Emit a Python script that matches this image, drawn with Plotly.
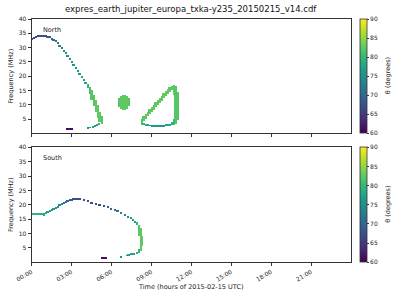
import plotly.graph_objects as go

# ---------------- data ----------------
# Each emission column: time (hours), frequency low / high (MHz), theta (deg)
N_ARC_T = [0.0, 0.15, 0.3, 0.45, 0.6, 0.75, 0.9, 1.05, 1.2, 1.35, 1.5, 1.65, 1.8, 1.95, 2.1,
           2.25, 2.4, 2.55, 2.7, 2.85, 3.0, 3.15, 3.3, 3.45, 3.6, 3.75, 3.9, 4.05]
N_ARC_F = [32.9, 33.3, 33.7, 34.0, 34.1, 34.2, 34.2, 34.1, 33.9, 33.6, 33.2, 32.8, 32.2, 31.5, 30.7,
           29.9, 29.0, 28.0, 27.0, 26.0, 24.9, 23.8, 22.8, 21.7, 20.7, 19.7, 18.6, 17.6]
N_ARC_TH = [67, 67, 67, 67, 67, 67, 67, 67, 68, 68, 69, 70, 71, 72, 73,
            73, 74, 74, 75, 75, 75, 75, 76, 76, 76, 77, 77, 78]

N_BAND_T = [4.2, 4.35, 4.5, 4.65, 4.8, 4.95, 5.1, 5.25,
            5.05, 4.9, 4.75, 4.55, 4.35, 4.2,
            2.7, 2.85, 3.0]
N_BAND_LO = [15.8, 13.6, 11.6, 9.6, 7.6, 5.3, 4.1, 3.4,
             2.9, 2.6, 2.3, 2.0, 1.9, 1.8,
             1.35, 1.35, 1.35]
N_BAND_HI = [17.4, 16.3, 15.0, 13.5, 11.8, 9.9, 7.6, 6.2,
             3.6, 3.1, 2.7, 2.4, 2.2, 2.1,
             1.75, 1.75, 1.75]
N_BAND_TH = [80, 81, 82, 82, 82.5, 82.5, 82.5, 82,
             79, 78, 77, 77, 76, 76,
             61, 61, 61]

BLOB_T = [6.55, 6.7, 6.85, 7.0, 7.15, 7.3]
BLOB_LO = [9.3, 8.5, 8.2, 8.2, 8.5, 9.5]
BLOB_HI = [12.2, 13.0, 13.3, 13.3, 13.0, 12.2]
BLOB_TH = [82, 82.5, 82.5, 82.5, 82.5, 82]

LOOP_T = [8.25, 8.4, 8.55, 8.7, 8.85, 9.0, 9.15, 9.3, 9.45, 9.6, 9.75, 9.9, 10.05, 10.2, 10.35, 10.5,
          10.65, 10.8, 10.95,
          8.4, 8.55, 8.7, 8.85, 9.0, 9.15, 9.3, 9.45, 9.6, 9.75, 9.9, 10.05, 10.2, 10.35, 10.5, 10.65]
LOOP_LO = [3.0, 4.3, 5.1, 5.9, 6.7, 7.5, 8.3, 9.1, 9.8, 10.6, 11.4, 12.2, 13.0, 13.7, 14.4, 15.0,
           13.5, 3.4, 4.5,
           2.8, 2.7, 2.6, 2.6, 2.5, 2.5, 2.5, 2.5, 2.5, 2.5, 2.5, 2.6, 2.6, 2.7, 2.8, 2.9]
LOOP_HI = [5.0, 6.0, 6.8, 7.6, 8.4, 9.2, 10.0, 10.8, 11.6, 12.4, 13.2, 14.0, 14.8, 15.5, 16.1, 16.6,
           16.8, 16.4, 14.5,
           3.5, 3.2, 3.0, 2.9, 2.9, 2.9, 2.9, 2.9, 2.9, 2.9, 2.9, 3.0, 3.1, 3.3, 3.8, 5.0]
LOOP_TH = [82, 82, 82.5, 82.5, 82.5, 82.5, 82.5, 82.5, 82.5, 82.5, 82.5, 82.5, 82.5, 82.5, 82.5, 82.5,
           82.5, 82, 82,
           80, 79, 78, 77, 76, 76, 76, 76, 76, 76, 76, 77, 77, 78, 79, 80]

S_T = [0.0, 0.15, 0.3, 0.45, 0.6, 0.75, 0.9, 1.05, 1.2, 1.35, 1.5, 1.65, 1.8, 1.95, 2.1, 2.25,
       2.4, 2.55, 2.7, 2.85, 3.0, 3.15, 3.3, 3.45, 3.6, 3.9, 4.2, 4.5, 4.8, 5.1, 5.4, 5.7,
       5.95, 6.2, 6.45, 6.7, 6.95, 7.2, 7.4, 7.6, 7.75, 7.9, 8.05, 8.2, 8.3,
       8.0, 7.85, 7.65, 7.5, 7.25, 7.1, 6.65, 5.25, 5.4, 5.55]
S_LO = [16.2, 16.2, 16.2, 16.2, 16.2, 16.2, 16.3, 16.7, 17.1, 17.5, 17.9, 18.3, 18.7, 19.1, 19.5, 19.9,
        20.3, 20.7, 21.0, 21.3, 21.5, 21.7, 21.8, 21.8, 21.7, 21.3, 20.9, 20.5, 20.1, 19.7, 19.3, 18.8,
        18.3, 17.9, 17.4, 16.9, 16.2, 15.6, 15.0, 14.4, 13.8, 12.8, 9.0, 3.8, 5.5,
        3.2, 2.8, 2.6, 2.5, 2.2, 2.1, 1.7, 1.3, 1.3, 1.3]
S_HI = [16.9, 16.9, 16.9, 16.9, 16.9, 16.9, 16.9, 17.3, 17.6, 18.0, 18.4, 18.8, 19.2, 19.6, 20.0, 20.4,
        20.8, 21.2, 21.5, 21.8, 22.0, 22.2, 22.3, 22.3, 22.2, 21.8, 21.3, 20.9, 20.5, 20.1, 19.7, 19.2,
        18.7, 18.3, 17.8, 17.3, 16.6, 16.0, 15.5, 14.9, 14.4, 13.8, 13.0, 11.8, 9.0,
        4.5, 3.4, 3.0, 2.9, 2.5, 2.4, 2.0, 1.6, 1.6, 1.6]
S_TH = [80, 80, 80, 79, 79, 79, 78, 78, 77, 77, 76, 76, 75, 75, 74, 73,
        72, 71, 70, 69, 68, 67, 67, 67, 67, 67, 67, 67, 67, 68, 68, 69,
        70, 71, 72, 73, 74, 75, 75, 76, 77, 80, 82, 82.5, 82.5,
        80, 79, 78, 77, 77, 76, 75, 61, 61, 61]

HOUR_TICKS = [0, 3, 6, 9, 12, 15, 18, 21]
HOUR_LABELS = ["00:00", "03:00", "06:00", "09:00", "12:00", "15:00", "18:00", "21:00"]
FREQ_TICKS = [5, 10, 15, 20, 25, 30, 35, 40]
THETA_TICKS = [60, 65, 70, 75, 80, 85, 90]
TITLE = "expres_earth_jupiter_europa_txka-y235_20150215_v14.cdf"

# ---------------- figure ----------------
W, H = 400, 300
FONT = "DejaVu Sans"
BAR_W = 0.15
ARC_HALF = 0.22

north_t = N_ARC_T + N_BAND_T + BLOB_T + LOOP_T
north_lo = [f - ARC_HALF for f in N_ARC_F] + N_BAND_LO + BLOB_LO + LOOP_LO
north_hi = [f + ARC_HALF for f in N_ARC_F] + N_BAND_HI + BLOB_HI + LOOP_HI
north_th = N_ARC_TH + N_BAND_TH + BLOB_TH + LOOP_TH


def px_x(p):
    return p / W


def px_y(p):
    return 1 - p / H


XD = [px_x(31.5), px_x(351)]
Y1 = [px_y(133.3), px_y(19)]
Y2 = [px_y(262.3), px_y(147.3)]


def cbar(ytop, length):
    return dict(
        x=px_x(360), xanchor="left", y=ytop, yanchor="top",
        len=length, lenmode="fraction", thickness=7, thicknessmode="pixels",
        outlinewidth=0.8, outlinecolor="#333",
        tickvals=THETA_TICKS, ticks="outside", ticklen=2, tickwidth=0.8,
        tickcolor="#333", tickfont=dict(family=FONT, size=6, color="#222"),
        xpad=0, ypad=0,
    )


fig = go.Figure()
fig.add_trace(go.Bar(
    x=north_t, y=[h - l for l, h in zip(north_lo, north_hi)], base=north_lo,
    width=BAR_W, xaxis="x", yaxis="y", opacity=1,
    marker=dict(color=north_th, colorscale="Viridis", cmin=60, cmax=90,
                line=dict(width=0), showscale=True,
                colorbar=cbar(Y1[1], Y1[1] - Y1[0])),
    hoverinfo="skip", showlegend=False,
))
fig.add_trace(go.Bar(
    x=S_T, y=[h - l for l, h in zip(S_LO, S_HI)], base=S_LO,
    width=BAR_W, xaxis="x2", yaxis="y2", opacity=1,
    marker=dict(color=S_TH, colorscale="Viridis", cmin=60, cmax=90,
                line=dict(width=0), showscale=True,
                colorbar=cbar(Y2[1], Y2[1] - Y2[0])),
    hoverinfo="skip", showlegend=False,
))

axis_common = dict(showgrid=False, zeroline=False, showline=True, mirror=True,
                   linecolor="#333", linewidth=0.8, ticks="outside", ticklen=3,
                   tickwidth=0.8, tickcolor="#333",
                   tickfont=dict(family=FONT, size=6, color="#222"))

fig.update_layout(
    width=W, height=H, margin=dict(l=0, r=0, t=0, b=0, autoexpand=False),
    paper_bgcolor="white", plot_bgcolor="white", barmode="overlay", bargap=0,
    xaxis=dict(domain=XD, range=[0, 24], anchor="y", tickvals=HOUR_TICKS,
               showticklabels=False, **axis_common),
    yaxis=dict(domain=Y1, range=[0, 40], anchor="x", tickvals=FREQ_TICKS,
               title=dict(text="Frequency (MHz)", font=dict(family=FONT, size=6.5, color="#222"),
                          standoff=4), **axis_common),
    xaxis2=dict(domain=XD, range=[0, 24], anchor="y2", tickvals=HOUR_TICKS,
                ticktext=HOUR_LABELS, tickangle=-30,
                title=dict(text="Time (hours of 2015-02-15 UTC)",
                           font=dict(family=FONT, size=6.5, color="#222"), standoff=2),
                **axis_common),
    yaxis2=dict(domain=Y2, range=[0, 40], anchor="x2", tickvals=FREQ_TICKS,
                title=dict(text="Frequency (MHz)", font=dict(family=FONT, size=6.5, color="#222"),
                           standoff=4), **axis_common),
    annotations=[
        dict(text=TITLE, x=(XD[0] + XD[1]) / 2, y=px_y(9), xref="paper", yref="paper",
             showarrow=False, font=dict(family=FONT, size=8.5, color="#111"),
             xanchor="center", yanchor="middle"),
        dict(text="North", x=0.75, y=36.3, xref="x", yref="y", showarrow=False,
             font=dict(family=FONT, size=6.5, color="#222"), xanchor="left", yanchor="middle"),
        dict(text="South", x=0.75, y=36.3, xref="x2", yref="y2", showarrow=False,
             font=dict(family=FONT, size=6.5, color="#222"), xanchor="left", yanchor="middle"),
        dict(text="θ (degrees)", x=px_x(388), y=(Y1[0] + Y1[1]) / 2, xref="paper", yref="paper",
             showarrow=False, textangle=-90, font=dict(family=FONT, size=6.5, color="#222"),
             xanchor="center", yanchor="middle"),
        dict(text="θ (degrees)", x=px_x(388), y=(Y2[0] + Y2[1]) / 2, xref="paper", yref="paper",
             showarrow=False, textangle=-90, font=dict(family=FONT, size=6.5, color="#222"),
             xanchor="center", yanchor="middle"),
    ],
)

fig.write_html("out.html")
